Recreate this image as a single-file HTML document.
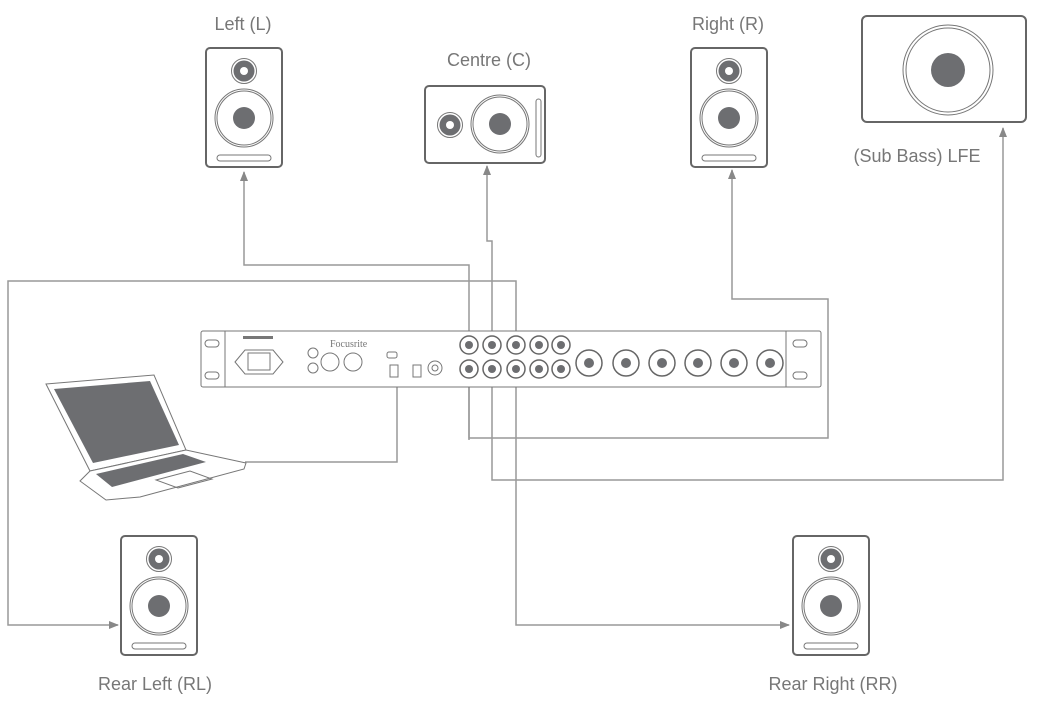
<!DOCTYPE html>
<html><head><meta charset="utf-8"><style>
html,body{margin:0;padding:0;background:#fff;}
svg{display:block}
text{font-family:"Liberation Sans",sans-serif;fill:#777;font-size:18px}
</style></head><body>
<svg width="1041" height="703" viewBox="0 0 1041 703" xmlns="http://www.w3.org/2000/svg">
<defs>
<g id="spk">
<rect x="1" y="1" width="76" height="119" rx="4" fill="#fff" stroke="#666" stroke-width="2"/>
<circle cx="39" cy="24" r="12.5" fill="none" stroke="#777" stroke-width="1"/>
<circle cx="39" cy="24" r="10.5" fill="#6d6e71"/>
<circle cx="39" cy="24" r="4" fill="#fff"/>
<circle cx="39" cy="71" r="29" fill="none" stroke="#777" stroke-width="1"/>
<circle cx="39" cy="71" r="27" fill="none" stroke="#777" stroke-width="1"/>
<circle cx="39" cy="71" r="11" fill="#6d6e71"/>
<rect x="12" y="108" width="54" height="6" rx="3" fill="none" stroke="#777" stroke-width="1"/>
</g>
<marker id="ar" markerWidth="10" markerHeight="10" refX="9" refY="5" orient="auto" markerUnits="userSpaceOnUse">
<path d="M0,1 L10,5 L0,9 Z" fill="#888"/>
</marker>
</defs>

<g fill="none" stroke="#999" stroke-width="1.5">
<path d="M469,440 V265 H244 V172" marker-end="url(#ar)"/>
<path d="M516,332 V281 H8 V625 H118" marker-end="url(#ar)"/>
<path d="M492,332 V241 H487 V166" marker-end="url(#ar)"/>
<path d="M492,385 V480 H1003 V128" marker-end="url(#ar)"/>
<path d="M469,385 V438 H828 V299 H732 V170" marker-end="url(#ar)"/>
<path d="M516,385 V625 H789" marker-end="url(#ar)"/>
<path d="M245,462 H397 V385"/>
</g>

<use href="#spk" x="205" y="47"/>
<use href="#spk" x="690" y="47"/>
<use href="#spk" x="120" y="535"/>
<use href="#spk" x="792" y="535"/>

<rect x="425" y="86" width="120" height="77" rx="4" fill="#fff" stroke="#666" stroke-width="2"/>
<circle cx="450" cy="125" r="12.5" fill="none" stroke="#777"/>
<circle cx="450" cy="125" r="10.5" fill="#6d6e71"/>
<circle cx="450" cy="125" r="4" fill="#fff"/>
<circle cx="500" cy="124" r="29" fill="none" stroke="#777"/>
<circle cx="500" cy="124" r="27" fill="none" stroke="#777"/>
<circle cx="500" cy="124" r="11" fill="#6d6e71"/>
<rect x="536" y="99" width="5" height="58" rx="2.5" fill="none" stroke="#777"/>

<rect x="862" y="16" width="164" height="106" rx="5" fill="#fff" stroke="#666" stroke-width="2"/>
<circle cx="948" cy="70" r="45" fill="none" stroke="#777"/>
<circle cx="948" cy="70" r="42" fill="none" stroke="#777"/>
<circle cx="948" cy="70" r="17" fill="#6d6e71"/>

<text x="243" y="30" text-anchor="middle">Left (L)</text>
<text x="489" y="66" text-anchor="middle">Centre (C)</text>
<text x="728" y="30" text-anchor="middle">Right (R)</text>
<text x="917" y="162" text-anchor="middle">(Sub Bass) LFE</text>
<text x="155" y="690" text-anchor="middle">Rear Left (RL)</text>
<text x="833" y="690" text-anchor="middle">Rear Right (RR)</text>

<g stroke="#777" stroke-width="1" fill="#fff">
<path d="M46,384 L154,375 L186,450 L90,471 Z"/>
<path d="M90,471 L186,450 L246,463 L244,469 L140,497 L106,500 L80,481 Z"/>
</g>
<path d="M54,389 L150,381 L179,445 L93,463 Z" fill="#6d6e71"/>
<path d="M96,474 L183,454 L206,462 L112,487 Z" fill="#6d6e71"/>
<path d="M156,480 L190,471 L212,479 L178,488 Z" fill="none" stroke="#777"/>

<g stroke="#777" stroke-width="1" fill="#fff">
<rect x="201" y="331" width="620" height="56" rx="2"/>
<line x1="225" y1="331" x2="225" y2="387"/>
<line x1="786" y1="331" x2="786" y2="387"/>
<rect x="205" y="340" width="14" height="7" rx="3.5"/>
<rect x="205" y="372" width="14" height="7" rx="3.5"/>
<rect x="793" y="340" width="14" height="7" rx="3.5"/>
<rect x="793" y="372" width="14" height="7" rx="3.5"/>
<path d="M235,362 L245,350 H273 L283,362 L273,374 H245 Z"/>
<rect x="248" y="353" width="22" height="17"/>
<circle cx="313" cy="353" r="5"/><circle cx="313" cy="368" r="5"/>
<circle cx="330" cy="362" r="9"/><circle cx="353" cy="362" r="9"/>
<rect x="387" y="352" width="10" height="6" rx="2"/>
<rect x="390" y="365" width="8" height="12"/><rect x="413" y="365" width="8" height="12"/>
<circle cx="435" cy="368" r="7"/><circle cx="435" cy="368" r="3"/>
</g>
<rect x="243" y="336" width="30" height="3" fill="#777"/>
<text x="330" y="347" style="font-family:'Liberation Serif',serif;font-size:10px;fill:#777">Focusrite</text>
<g stroke="#666" stroke-width="1.5" fill="#fff">
<circle cx="469" cy="345" r="9"/><circle cx="492" cy="345" r="9"/><circle cx="516" cy="345" r="9"/><circle cx="539" cy="345" r="9"/><circle cx="561" cy="345" r="9"/>
<circle cx="469" cy="369" r="9"/><circle cx="492" cy="369" r="9"/><circle cx="516" cy="369" r="9"/><circle cx="539" cy="369" r="9"/><circle cx="561" cy="369" r="9"/>
</g>
<g fill="#6d6e71">
<circle cx="469" cy="345" r="4"/><circle cx="492" cy="345" r="4"/><circle cx="516" cy="345" r="4"/><circle cx="539" cy="345" r="4"/><circle cx="561" cy="345" r="4"/>
<circle cx="469" cy="369" r="4"/><circle cx="492" cy="369" r="4"/><circle cx="516" cy="369" r="4"/><circle cx="539" cy="369" r="4"/><circle cx="561" cy="369" r="4"/>
</g>
<g stroke="#666" stroke-width="1.5" fill="#fff">
<circle cx="589" cy="363" r="13"/><circle cx="626" cy="363" r="13"/><circle cx="662" cy="363" r="13"/><circle cx="698" cy="363" r="13"/><circle cx="734" cy="363" r="13"/><circle cx="770" cy="363" r="13"/>
</g>
<g fill="#6d6e71">
<circle cx="589" cy="363" r="5"/><circle cx="626" cy="363" r="5"/><circle cx="662" cy="363" r="5"/><circle cx="698" cy="363" r="5"/><circle cx="734" cy="363" r="5"/><circle cx="770" cy="363" r="5"/>
</g>
</svg>
</body></html>
